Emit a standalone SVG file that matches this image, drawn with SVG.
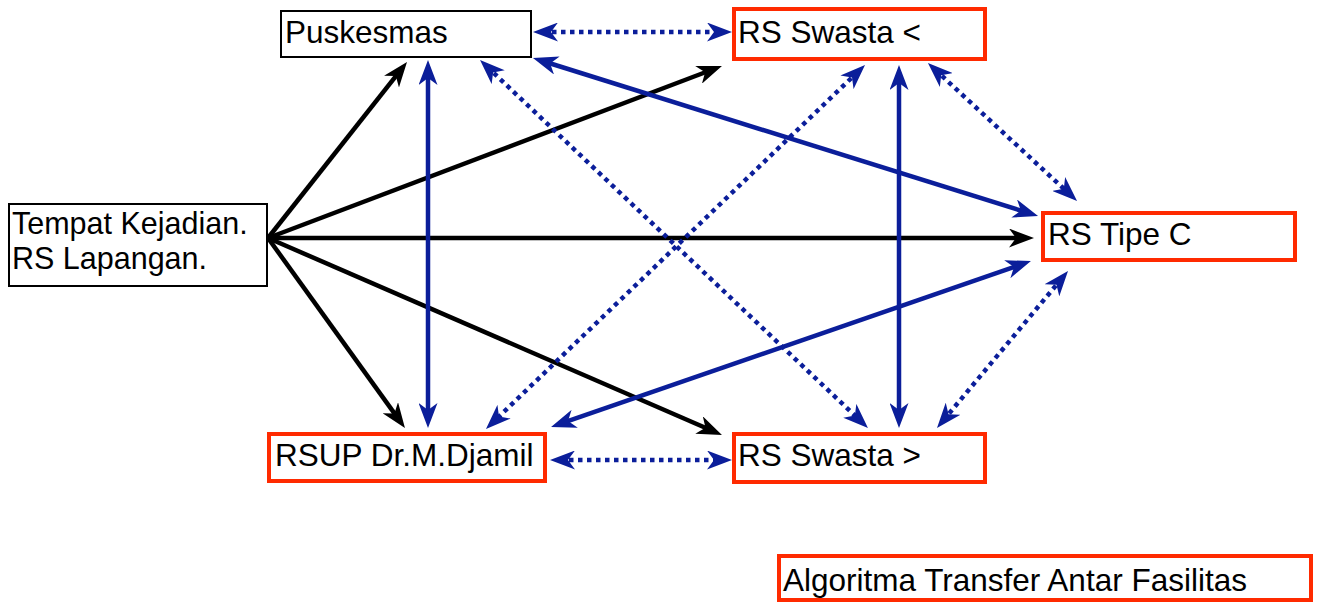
<svg xmlns="http://www.w3.org/2000/svg" width="1317" height="603" viewBox="0 0 1317 603">
  <style>
    .box { fill: #ffffff; }
    .plain { stroke: #000000; stroke-width: 2; }
    .hot { stroke: #ff2a00; stroke-width: 4; }
    .label { font-family: "Liberation Sans", Arial, sans-serif; font-size: 31.5px; fill: #000000; }
    .two-line { font-size: 30.5px; }
    .flow { fill: none; stroke: #000000; stroke-width: 4.5; marker-end: url(#headBlack); }
    .link { fill: none; stroke: #0b1e9a; stroke-width: 4.5; marker-start: url(#headBlue); marker-end: url(#headBlue); }
    .dotted { stroke-dasharray: 4.5 4.5; }
  </style>
  <defs>
    <marker id="headBlack" viewBox="0 0 25 19" refX="15" refY="9.5" markerWidth="25" markerHeight="19" markerUnits="userSpaceOnUse" orient="auto-start-reverse">
      <path d="M0,0 L25,9.5 L0,19 L7,9.5 z" fill="#000000"/>
    </marker>
    <marker id="headBlue" viewBox="0 0 25 19" refX="15" refY="9.5" markerWidth="25" markerHeight="19" markerUnits="userSpaceOnUse" orient="auto-start-reverse">
      <path d="M0,0 L25,9.5 L0,19 L7,9.5 z" fill="#0b1e9a"/>
    </marker>
  </defs>

  <g id="connectors">
    <!-- outgoing transfers from the incident site -->
    <line class="flow" x1="268" y1="238" x2="400.8" y2="69.8"/>
    <line class="flow" x1="268" y1="238" x2="712.6" y2="69.5"/>
    <line class="flow" x1="268" y1="238" x2="1024" y2="238"/>
    <line class="flow" x1="268" y1="238" x2="399.1" y2="419.9"/>
    <line class="flow" x1="268" y1="238" x2="712.8" y2="431"/>
    <!-- two-way solid links -->
    <line class="link" x1="428" y1="70" x2="428" y2="418"/>
    <line class="link" x1="899" y1="75" x2="899" y2="418"/>
    <line class="link" x1="542.5" y1="61" x2="1028.5" y2="213"/>
    <line class="link" x1="560.5" y1="423.7" x2="1021.5" y2="264.3"/>
    <!-- two-way dotted links -->
    <line class="link dotted" x1="543" y1="32" x2="722" y2="32"/>
    <line class="link dotted" x1="560" y1="460" x2="722" y2="460"/>
    <line class="link dotted" x1="487.3" y1="66.9" x2="860.7" y2="421.1"/>
    <line class="link dotted" x1="857.8" y1="71.9" x2="493.2" y2="422.1"/>
    <line class="link dotted" x1="935.3" y1="69.8" x2="1069.7" y2="194.2"/>
    <line class="link dotted" x1="943.4" y1="420.3" x2="1061.6" y2="278.7"/>
  </g>

  <g id="puskesmas">
    <rect class="box plain" x="281" y="11" width="250" height="46"/>
    <text class="label" x="285" y="43">Puskesmas</text>
  </g>

  <g id="rs-swasta-lt">
    <rect class="box hot" x="734" y="9" width="251" height="50"/>
    <text class="label" x="738" y="43">RS Swasta &lt;</text>
  </g>

  <g id="tempat-kejadian">
    <rect class="box plain" x="9" y="204" width="258" height="82"/>
    <text class="label two-line" x="12" y="234">Tempat Kejadian.</text>
    <text class="label two-line" x="12" y="269">RS Lapangan.</text>
  </g>

  <g id="rs-tipe-c">
    <rect class="box hot" x="1043" y="213" width="252" height="47"/>
    <text class="label" x="1048" y="245">RS Tipe C</text>
  </g>

  <g id="rsup-djamil">
    <rect class="box hot" x="269" y="434" width="276" height="47"/>
    <text class="label" x="275" y="466">RSUP Dr.M.Djamil</text>
  </g>

  <g id="rs-swasta-gt">
    <rect class="box hot" x="734" y="434" width="251" height="48"/>
    <text class="label" x="738" y="466">RS Swasta &gt;</text>
  </g>

  <g id="title">
    <rect class="box hot" x="779" y="556" width="532" height="44"/>
    <text class="label" x="783" y="591">Algoritma Transfer Antar Fasilitas</text>
  </g>
</svg>
